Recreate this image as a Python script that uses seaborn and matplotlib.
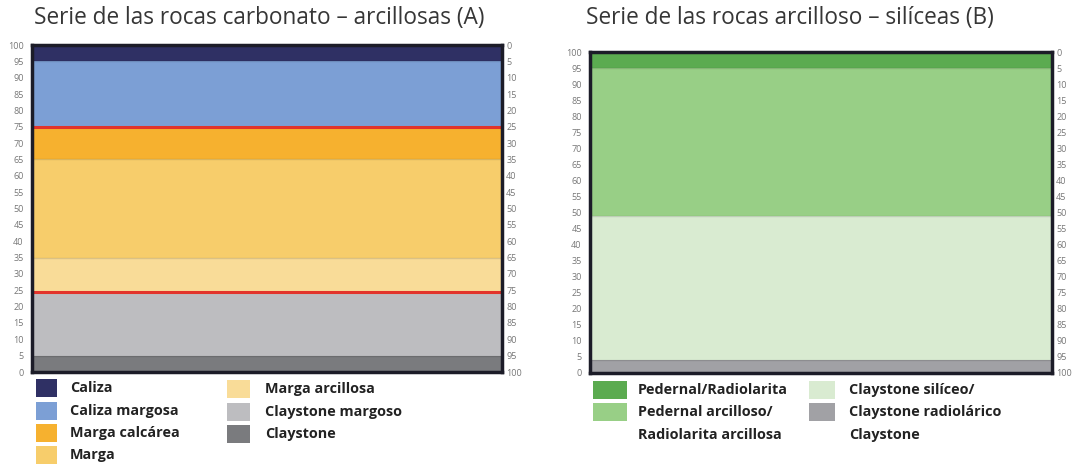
import matplotlib
matplotlib.use("Agg")
import matplotlib.pyplot as plt
from matplotlib.patches import Rectangle
import seaborn as sns
import pandas as pd
import numpy as np

""" 0. Data """
# (A) carbonato - arcillosas, from bottom to top, thickness in %
rocks_a = ["Claystone", "Claystone margoso", "Marga arcillosa", "Marga",
           "Marga calcárea", "Caliza margosa", "Caliza"]
thick_a = [5, 19.5, 10.5, 30, 10, 20, 5]
colors_a = ["#7a7b7e", "#bdbdc0", "#f9dc98", "#f7cd6b", "#f6b12f", "#7c9fd5", "#2f3064"]
red_lines_a = [24.5, 75]

# (B) arcilloso - silíceas, from bottom to top
rocks_b = ["Claystone", "Claystone silíceo", "Pedernal arcilloso", "Pedernal/Radiolarita"]
thick_b = [4, 45, 46, 5]
colors_b = ["#a1a1a5", "#d9ebd1", "#98cf86", "#5bab50"]

ticks = list(range(0, 101, 5))

titles = ["Serie de las rocas carbonato \u2013 arcillosas (A)",
          "Serie de las rocas arcilloso \u2013 silíceas (B)"]

legend_a = [("Caliza", "#2f3064"), ("Caliza margosa", "#7c9fd5"),
            ("Marga calcárea", "#f6b12f"), ("Marga", "#f7cd6b"),
            ("Marga arcillosa", "#f9dc98"), ("Claystone margoso", "#bdbdc0"),
            ("Claystone", "#7a7b7e")]
legend_b = [("Pedernal/Radiolarita", "#5bab50"), ("Pedernal arcilloso/", "#98cf86"),
            ("Radiolarita arcillosa", None), ("Claystone silíceo/", "#d9ebd1"),
            ("Claystone radiolárico", "#a1a1a5"), ("Claystone", None)]

sns.set_theme(style="white")
plt.rcParams['font.family'] = ['Open Sans', 'DejaVu Sans']

W, H = 1079, 467
fig = plt.figure(figsize=(W / 100, H / 100), dpi=100)


def px_axes(x0, y0, x1, y1):
    return fig.add_axes([x0 / W, 1 - y1 / H, (x1 - x0) / W, (y1 - y0) / H])


def column(ax, names, thick, colors, red_lines=()):
    df = pd.DataFrame({"rock": names, "thick": thick, "color": colors})
    df["top"] = np.cumsum(df["thick"])
    # draw from the highest top down so lower layers overlay
    for _, r in df.iloc[::-1].iterrows():
        sns.barplot(data=pd.DataFrame({"col": ["x"], "top": [r["top"]]}), x="col", y="top",
                    color=r["color"], saturation=1, width=1.0, ax=ax, linewidth=0)
    for t in df["top"].iloc[:-1]:
        ax.axhline(t, color="#000000", alpha=0.12, lw=1)
    for v in red_lines:
        ax.axhline(v, color="#e2342b", lw=2.2)
    ax.set_xlim(-0.5, 0.5)
    ax.set_ylim(0, 100)
    ax.set_xlabel("")
    ax.set_ylabel("")
    ax.set_xticks([])
    ax.set_yticks(ticks)
    ax.tick_params(axis="y", length=0, pad=6, labelsize=6.5, labelcolor="#777777")
    for s in ax.spines.values():
        s.set_visible(True)
        s.set_color("#1c1c28")
        s.set_linewidth(2.5)
    ax2 = ax.twinx()
    ax2.set_ylim(100, 0)
    ax2.set_yticks(ticks)
    ax2.tick_params(axis="y", length=0, pad=3, labelsize=6.5, labelcolor="#777777")
    for s in ax2.spines.values():
        s.set_visible(False)
    return ax2


axA = px_axes(32, 45, 502, 372)
column(axA, rocks_a, thick_a, colors_a, red_lines_a)
axB = px_axes(590, 52, 1052, 373)
column(axB, rocks_b, thick_b, colors_b)

fig.text(34 / W, 1 - 18 / H, titles[0], fontsize=16.3, color="#363636", va="center", ha="left")
fig.text(586 / W, 1 - 18 / H, titles[1], fontsize=16.3, color="#363636", va="center", ha="left")


def legend_item(x_patch, y, w, label, color, x_text):
    if color is not None:
        fig.patches.append(Rectangle((x_patch / W, 1 - (y + 9) / H), w / W, 18 / H,
                                     transform=fig.transFigure, facecolor=color,
                                     edgecolor="none"))
    fig.text(x_text / W, 1 - y / H, label, fontsize=10.4, fontweight="bold",
             color="#222222", va="center", ha="left")


rows_a = [388, 411, 433, 455]
for i, (lab, col) in enumerate(legend_a[:4]):
    legend_item(36, rows_a[i], 21, lab, col, 70)
for i, (lab, col) in enumerate(legend_a[4:]):
    legend_item(227, rows_a[i] + 1, 23, lab, col, 265)

rows_b = [390, 412, 435]
for i, (lab, col) in enumerate(legend_b[:3]):
    legend_item(593, rows_b[i], 34, lab, col, 638)
for i, (lab, col) in enumerate(legend_b[3:]):
    legend_item(809, rows_b[i], 26, lab, col, 849)

plt.savefig("out.png", dpi=100)
